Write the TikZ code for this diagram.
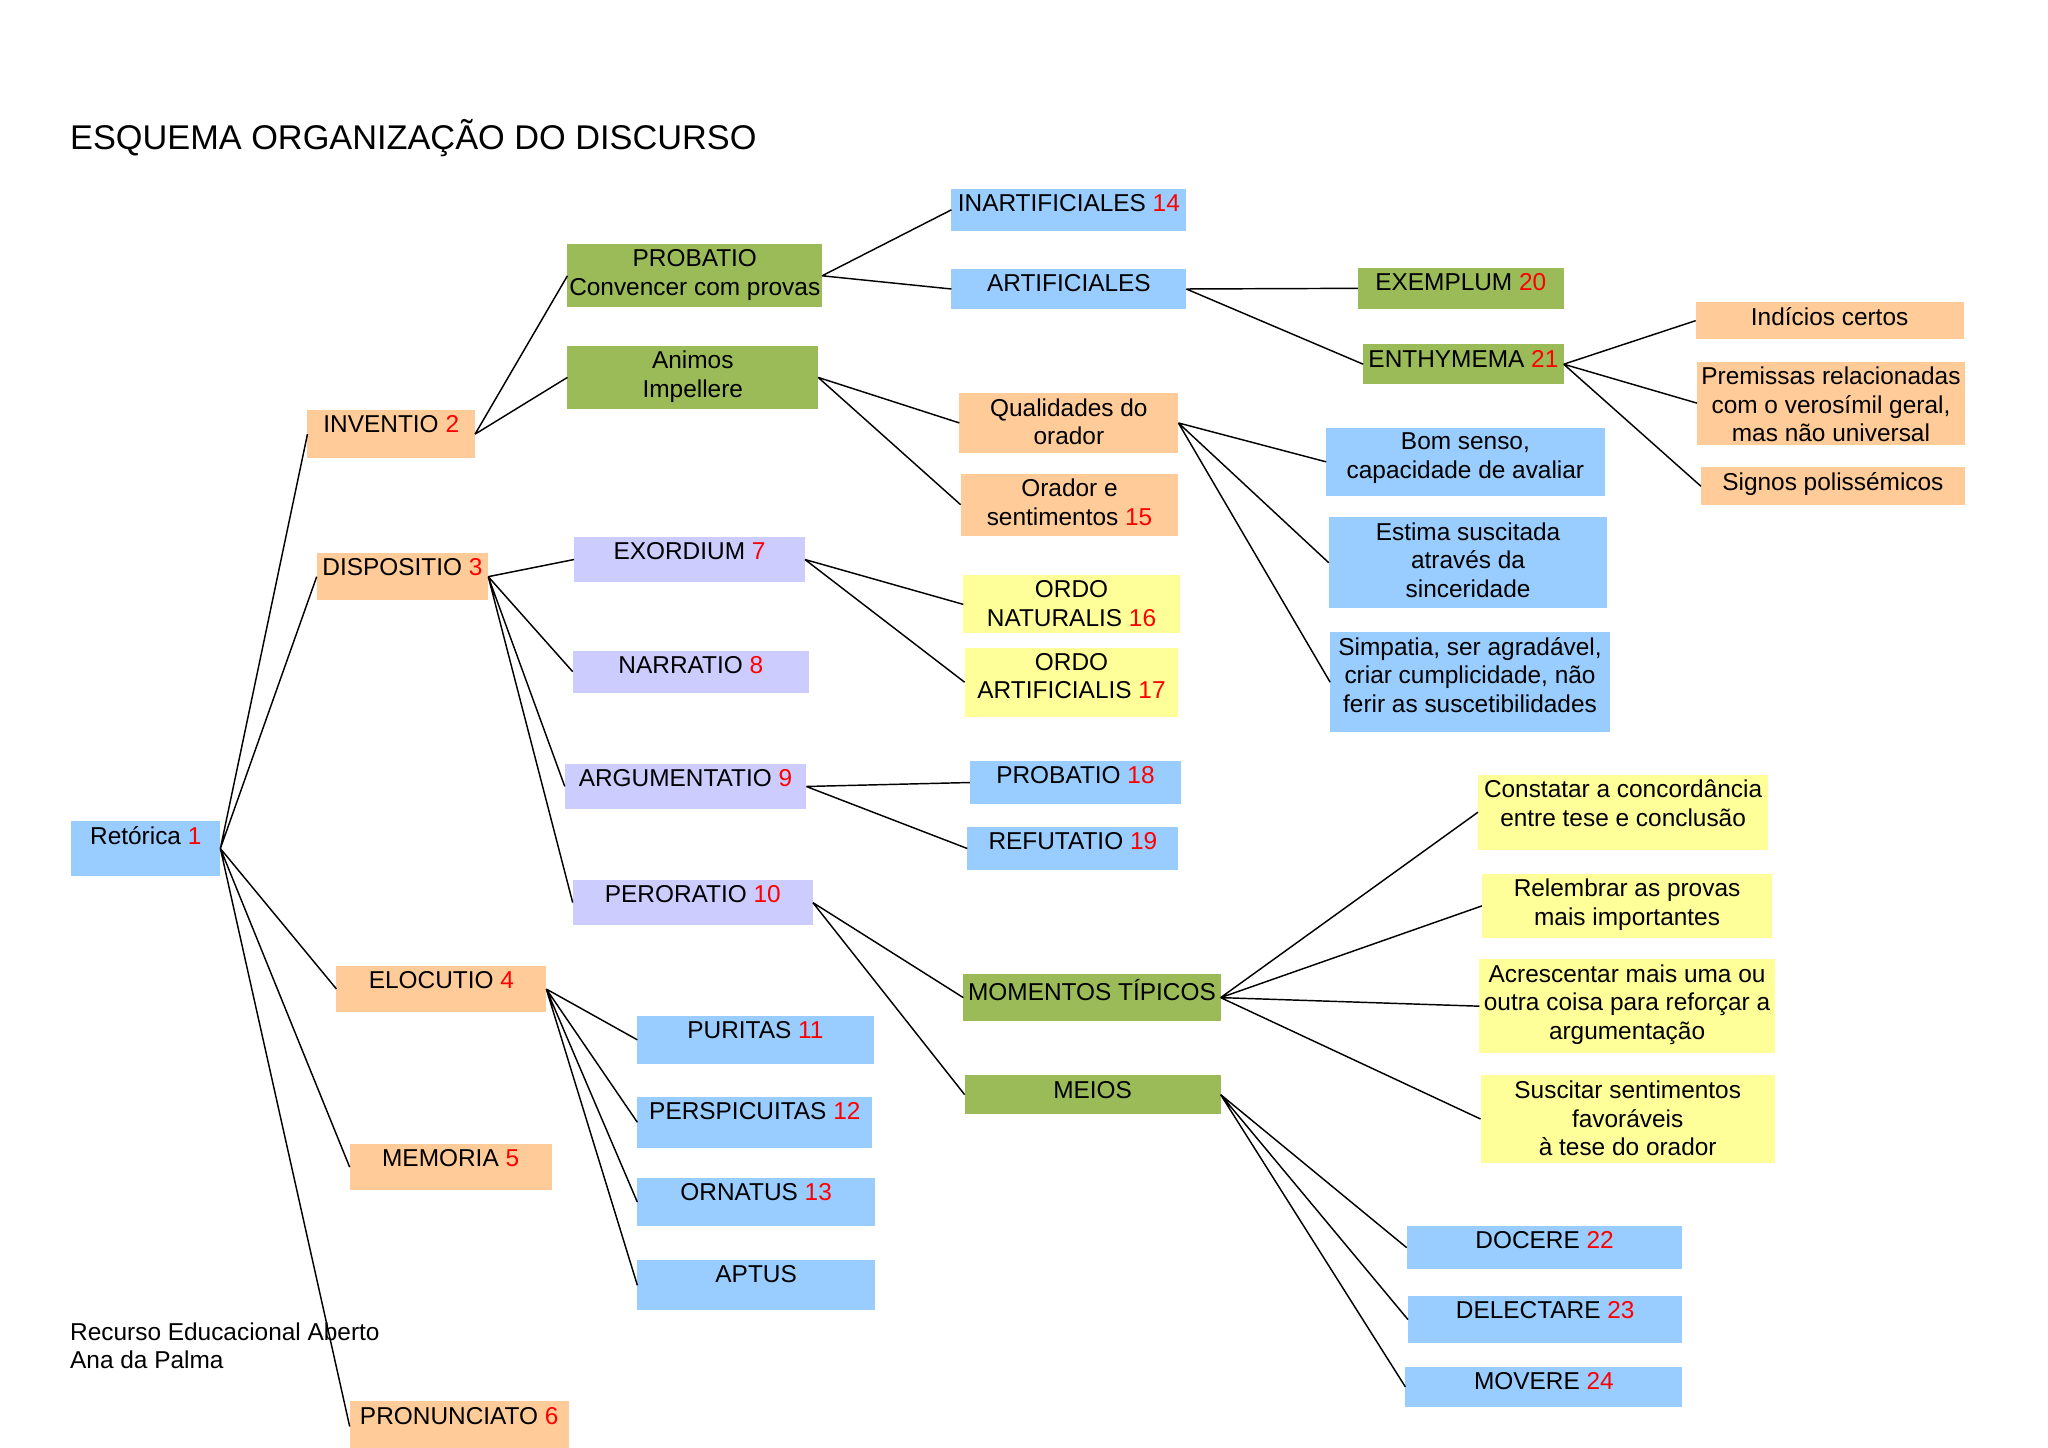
\documentclass[tikz,border=0pt]{standalone}
\usepackage{fontspec}
\setmainfont{Liberation Sans}
\usetikzlibrary{positioning}
\definecolor{boxblue}{HTML}{99CCFF}
\definecolor{boxorange}{HTML}{FFCC99}
\definecolor{boxgreen}{HTML}{9BBB59}
\definecolor{boxlilac}{HTML}{CCCCFF}
\definecolor{boxyellow}{HTML}{FFFF99}
\definecolor{numred}{HTML}{FF0000}
\newcommand{\rednum}[1]{\textcolor{numred}{#1}}
\newcommand{\boxfont}{\fontsize{18.5}{21.5}\selectfont}

\begin{document}
\begin{tikzpicture}[x=1pt, y=-1pt,
    box/.style={anchor=north west, inner sep=0pt, outer sep=0pt},
    bluebox/.style={box, fill=boxblue},
    orangebox/.style={box, fill=boxorange},
    greenbox/.style={box, fill=boxgreen},
    lilacbox/.style={box, fill=boxlilac},
    yellowbox/.style={box, fill=boxyellow},
    lbl/.style={anchor=north, inner sep=0pt, yshift=-4pt, align=center, font=\boxfont},
    link/.style={line width=1.1pt, black}]

    % page frame:
    \useasboundingbox (0,0) rectangle (1552,1097);

    % title and credits:
    \node[anchor=base west, inner sep=0pt, font=\fontsize{26}{30}\selectfont] (title) at (53,113) {ESQUEMA ORGANIZAÇÃO DO DISCURSO};
    \node[anchor=north west, inner sep=0pt, align=left, font=\boxfont] (credit) at (53,1002) {Recurso Educacional Aberto\\Ana da Palma};

    % root and the five parts:
    \node[bluebox, minimum width=113pt, minimum height=42pt, label={[lbl]north:Retórica \rednum{1}}] (ret) at (54,622) {};
    \node[orangebox, minimum width=127pt, minimum height=36pt, label={[lbl]north:INVENTIO \rednum{2}}] (inv) at (233,311) {};
    \node[orangebox, minimum width=130pt, minimum height=36pt, label={[lbl]north:DISPOSITIO \rednum{3}}] (disp) at (240,419) {};
    \node[orangebox, minimum width=159pt, minimum height=35pt, label={[lbl]north:ELOCUTIO \rednum{4}}] (eloc) at (255,732) {};
    \node[orangebox, minimum width=153pt, minimum height=35pt, label={[lbl]north:MEMORIA \rednum{5}}] (mem) at (265,867) {};
    \node[orangebox, minimum width=166pt, minimum height=38pt, label={[lbl]north:PRONUNCIATO \rednum{6}}] (pron) at (265,1062) {};

    % inventio branch:
    \node[greenbox, minimum width=193pt, minimum height=48pt, label={[lbl]north:{PROBATIO\\Convencer com provas}}] (prob) at (430,185) {};
    \node[greenbox, minimum width=190pt, minimum height=48pt, label={[lbl]north:{Animos\\Impellere}}] (anim) at (430,262) {};
    \node[bluebox, minimum width=178pt, minimum height=32pt, label={[lbl]north:INARTIFICIALES \rednum{14}}] (inart) at (721,143) {};
    \node[bluebox, minimum width=178pt, minimum height=30pt, label={[lbl]north:ARTIFICIALES}] (art) at (721,204) {};
    \node[greenbox, minimum width=156pt, minimum height=31pt, label={[lbl]north:EXEMPLUM \rednum{20}}] (exem) at (1029,203) {};
    \node[greenbox, minimum width=152pt, minimum height=30pt, label={[lbl]north:ENTHYMEMA \rednum{21}}] (enth) at (1033,261) {};
    \node[orangebox, minimum width=203pt, minimum height=28pt, label={[lbl]north:Indícios certos}] (indic) at (1285,229) {};
    \node[orangebox, minimum width=203pt, minimum height=63pt, label={[lbl]north:{Premissas relacionadas\\com o verosímil geral,\\mas não universal}}] (prem) at (1286,274) {};
    \node[orangebox, minimum width=200pt, minimum height=29pt, label={[lbl]north:Signos polissémicos}] (signos) at (1289,354) {};
    \node[orangebox, minimum width=166pt, minimum height=45pt, label={[lbl]north:{Qualidades do\\orador}}] (qual) at (727,298) {};
    \node[orangebox, minimum width=165pt, minimum height=47pt, label={[lbl]north:{Orador e\\sentimentos \rednum{15}}}] (orsent) at (728,359) {};
    \node[bluebox, minimum width=211pt, minimum height=52pt, label={[lbl]north:{Bom senso,\\capacidade de avaliar}}] (bom) at (1005,324) {};
    \node[bluebox, minimum width=211pt, minimum height=69pt, label={[lbl]north:{Estima suscitada\\através da\\sinceridade}}] (estima) at (1007,392) {};
    \node[bluebox, minimum width=212pt, minimum height=76pt, label={[lbl]north:{Simpatia, ser agradável,\\criar cumplicidade, não\\ferir as suscetibilidades}}] (simp) at (1008,479) {};

    % dispositio branch:
    \node[lilacbox, minimum width=175pt, minimum height=34pt, label={[lbl]north:EXORDIUM \rednum{7}}] (exo) at (435,407) {};
    \node[lilacbox, minimum width=179pt, minimum height=32pt, label={[lbl]north:NARRATIO \rednum{8}}] (narr) at (434,493) {};
    \node[lilacbox, minimum width=183pt, minimum height=34pt, label={[lbl]north:ARGUMENTATIO \rednum{9}}] (argum) at (428,579) {};
    \node[lilacbox, minimum width=182pt, minimum height=34pt, label={[lbl]north:PERORATIO \rednum{10}}] (peror) at (434,667) {};
    \node[yellowbox, minimum width=164pt, minimum height=44pt, label={[lbl]north:{ORDO\\NATURALIS \rednum{16}}}] (onat) at (730,436) {};
    \node[yellowbox, minimum width=162pt, minimum height=52pt, label={[lbl]north:{ORDO\\ARTIFICIALIS \rednum{17}}}] (oart) at (731,491) {};
    \node[bluebox, minimum width=160pt, minimum height=32pt, label={[lbl]north:PROBATIO \rednum{18}}] (prob18) at (735,577) {};
    \node[bluebox, minimum width=160pt, minimum height=32pt, label={[lbl]north:REFUTATIO \rednum{19}}] (refut) at (733,627) {};
    \node[greenbox, minimum width=195pt, minimum height=36pt, label={[lbl]north:MOMENTOS TÍPICOS}] (moment) at (730,738) {};
    \node[greenbox, minimum width=194pt, minimum height=29pt, label={[lbl]north:MEIOS}] (meios) at (731,815) {};
    \node[yellowbox, minimum width=220pt, minimum height=57pt, label={[lbl]north:{Constatar a concordância\\entre tese e conclusão}}] (const) at (1120,587) {};
    \node[yellowbox, minimum width=220pt, minimum height=49pt, label={[lbl]north:{Relembrar as provas\\mais importantes}}] (relem) at (1123,662) {};
    \node[yellowbox, minimum width=224pt, minimum height=71pt, label={[lbl]north:{Acrescentar mais uma ou\\outra coisa para reforçar a\\argumentação}}] (acresc) at (1121,727) {};
    \node[yellowbox, minimum width=223pt, minimum height=66pt, label={[lbl]north:{Suscitar sentimentos\\favoráveis\\à tese do orador}}] (suscit) at (1122,815) {};
    \node[bluebox, minimum width=209pt, minimum height=33pt, label={[lbl]north:DOCERE \rednum{22}}] (docere) at (1066,929) {};
    \node[bluebox, minimum width=208pt, minimum height=36pt, label={[lbl]north:DELECTARE \rednum{23}}] (delect) at (1067,982) {};
    \node[bluebox, minimum width=210pt, minimum height=30pt, label={[lbl]north:MOVERE \rednum{24}}] (movere) at (1065,1036) {};

    % elocutio branch:
    \node[bluebox, minimum width=179pt, minimum height=36pt, label={[lbl]north:PURITAS \rednum{11}}] (purit) at (483,770) {};
    \node[bluebox, minimum width=178pt, minimum height=39pt, label={[lbl]north:PERSPICUITAS \rednum{12}}] (persp) at (483,831) {};
    \node[bluebox, minimum width=180pt, minimum height=36pt, label={[lbl]north:ORNATUS \rednum{13}}] (ornat) at (483,893) {};
    \node[bluebox, minimum width=180pt, minimum height=38pt, label={[lbl]north:APTUS}] (aptus) at (483,955) {};

    % connectors from the root:
    \draw[link] (ret.east) -- (inv.west) (ret.east) -- (disp.west) (ret.east) -- (eloc.west)
        (ret.east) -- (mem.west) (ret.east) -- (pron.west);

    % inventio:
    \draw[link] (inv.east) -- (prob.west) (inv.east) -- (anim.west);
    \draw[link] (prob.east) -- (inart.west) (prob.east) -- (art.west);
    \draw[link] (art.east) -- (exem.west) (art.east) -- (enth.west);
    \draw[link] (enth.east) -- (indic.west) (enth.east) -- (prem.west) (enth.east) -- (signos.west);
    \draw[link] (anim.east) -- (qual.west) (anim.east) -- (orsent.west);
    \draw[link] (qual.east) -- (bom.west) (qual.east) -- (estima.west) (qual.east) -- (simp.west);

    % dispositio:
    \draw[link] (disp.east) -- (exo.west) (disp.east) -- (narr.west) (disp.east) -- (argum.west)
        (disp.east) -- (peror.west);
    \draw[link] (exo.east) -- (onat.west) (exo.east) -- (oart.west);
    \draw[link] (argum.east) -- (prob18.west) (argum.east) -- (refut.west);
    \draw[link] (peror.east) -- (moment.west) (peror.east) -- (meios.west);
    \draw[link] (moment.east) -- (const.west) (moment.east) -- (relem.west) (moment.east) -- (acresc.west)
        (moment.east) -- (suscit.west);
    \draw[link] (meios.east) -- (docere.west) (meios.east) -- (delect.west) (meios.east) -- (movere.west);

    % elocutio:
    \draw[link] (eloc.east) -- (purit.west) (eloc.east) -- (persp.west) (eloc.east) -- (ornat.west)
        (eloc.east) -- (aptus.west);

\end{tikzpicture}
\end{document}
